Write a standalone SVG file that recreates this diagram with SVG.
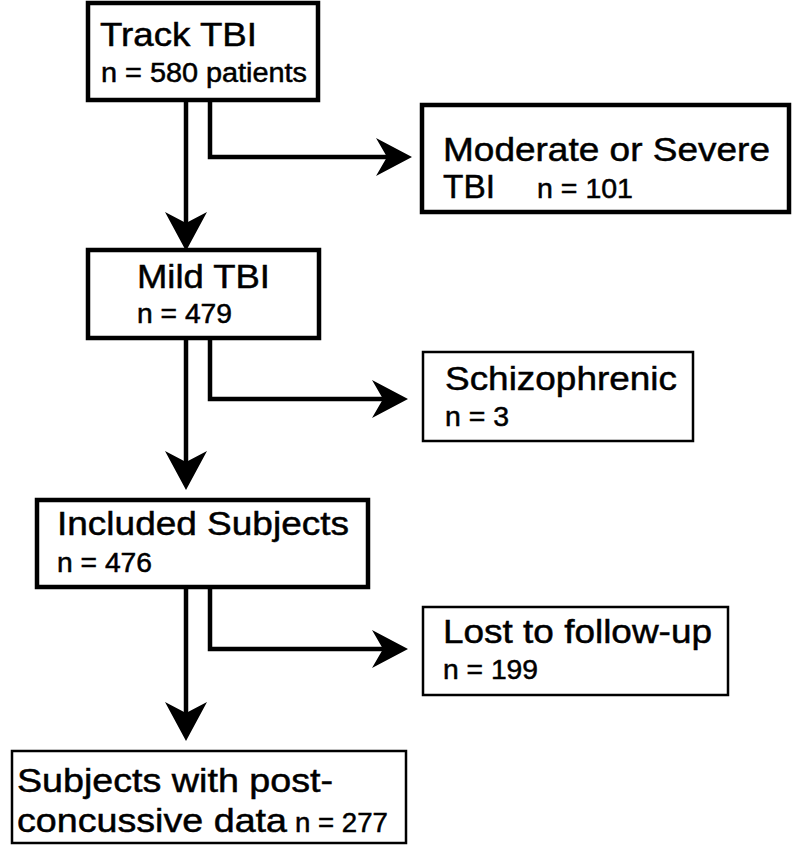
<svg xmlns="http://www.w3.org/2000/svg" width="792" height="852" viewBox="0 0 792 852">
<style>
.box{fill:#fff;stroke:#000;stroke-width:4.5}
.thin{fill:#fff;stroke:#000;stroke-width:2.5}
.t{font-family:"Liberation Sans",Arial,Helvetica,sans-serif;fill:#000;stroke:#000;stroke-width:0.5}
.big{font-size:34px}
.sm{font-size:27px}
.ln{fill:none;stroke:#000;stroke-width:4.5;stroke-linejoin:miter}
</style>
<defs>
<path id="ahd" d="M0,0 L-21,-39 L0,-28 L21,-39 Z" fill="#000"/>
<path id="ahr" d="M0,0 L-36,-19 L-25,0 L-36,19 Z" fill="#000"/>
</defs>
<rect width="792" height="852" fill="#fff"/>
<g id="connectors">
<path class="ln" d="M186,100 V225"/>
<use href="#ahd" x="186" y="251"/>
<path class="ln" d="M210,100 V157 H388"/>
<use href="#ahr" x="412" y="157"/>
<path class="ln" d="M186,338 V465"/>
<use href="#ahd" x="186" y="490"/>
<path class="ln" d="M210,338 V399 H385"/>
<use href="#ahr" x="408" y="399"/>
<path class="ln" d="M186,587 V715"/>
<use href="#ahd" x="186" y="741"/>
<path class="ln" d="M210,587 V649 H385"/>
<use href="#ahr" x="408" y="649"/>
</g>
<g id="track">
<rect class="box" x="88" y="3" width="230" height="97"/>
<text class="t big" x="100" y="46" textLength="157" lengthAdjust="spacingAndGlyphs">Track TBI</text>
<text class="t sm" x="101" y="82" textLength="206" lengthAdjust="spacingAndGlyphs">n = 580 patients</text>
</g>
<g id="moderate">
<rect class="box" x="422" y="105" width="367" height="107"/>
<text class="t big" x="443" y="161" textLength="327" lengthAdjust="spacingAndGlyphs">Moderate or Severe</text>
<text class="t big" x="443" y="198" textLength="52" lengthAdjust="spacingAndGlyphs">TBI</text>
<text class="t sm" x="537" y="198" textLength="96" lengthAdjust="spacingAndGlyphs" font-size="25">n = 101</text>
</g>
<g id="mild">
<rect class="box" x="88" y="250" width="231" height="88"/>
<text class="t big" x="137" y="288" textLength="133" lengthAdjust="spacingAndGlyphs">Mild TBI</text>
<text class="t sm" x="137" y="323" textLength="95" lengthAdjust="spacingAndGlyphs">n = 479</text>
</g>
<g id="schizophrenic">
<rect class="thin" x="423" y="352" width="270" height="89"/>
<text class="t big" x="445" y="390" textLength="232" lengthAdjust="spacingAndGlyphs">Schizophrenic</text>
<text class="t sm" x="445" y="426" textLength="64" lengthAdjust="spacingAndGlyphs">n = 3</text>
</g>
<g id="included">
<rect class="box" x="37" y="500" width="331" height="87"/>
<text class="t big" x="57" y="535" textLength="292" lengthAdjust="spacingAndGlyphs">Included Subjects</text>
<text class="t sm" x="57" y="572" textLength="95" lengthAdjust="spacingAndGlyphs">n = 476</text>
</g>
<g id="lost">
<rect class="thin" x="423" y="607" width="305" height="88"/>
<text class="t big" x="443" y="643" textLength="269" lengthAdjust="spacingAndGlyphs">Lost to follow-up</text>
<text class="t sm" x="443" y="679" textLength="95" lengthAdjust="spacingAndGlyphs">n = 199</text>
</g>
<g id="subjects">
<rect class="thin" x="12" y="751" width="394" height="92"/>
<text class="t big" x="17" y="792" textLength="316" lengthAdjust="spacingAndGlyphs">Subjects with post-</text>
<text class="t big" x="17" y="832" textLength="270" lengthAdjust="spacingAndGlyphs">concussive data</text>
<text class="t sm" x="295" y="832" textLength="93" lengthAdjust="spacingAndGlyphs">n = 277</text>
</g>
</svg>
